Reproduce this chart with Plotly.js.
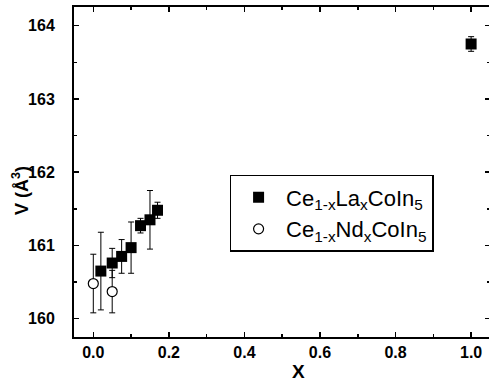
<!DOCTYPE html>
<html><head><meta charset="utf-8">
<script src="https://cdn.plot.ly/plotly-3.0.1.min.js"></script>
<style>html,body{margin:0;padding:0;overflow:hidden;background:#fff}</style>
</head><body>
<div id="chart" style="width:490px;height:383px"></div>
<script>
// Ce(1-x)La(x)CoIn5
const laX = [0.02, 0.05, 0.075, 0.1, 0.125, 0.15, 0.17, 1.0];
const laV = [160.65, 160.76, 160.85, 160.97, 161.27, 161.35, 161.48, 163.75];
const laErr = [0.53, 0.2, 0.23, 0.35, 0.1, 0.4, 0.11, 0.1];
// Ce(1-x)Nd(x)CoIn5
const ndX = [0.0, 0.05];
const ndV = [160.48, 160.37];
const ndErr = [0.4, 0.29];

const FONT = '"Liberation Sans", Arial, sans-serif';

const traces = [
  {
    x: ndX, y: ndV, type: 'scatter', mode: 'markers',
    name: 'Ce<sub>1-x</sub>Nd<sub>x</sub>CoIn<sub>5</sub>',
    marker: {symbol: 'circle', size: 10, color: '#fff', line: {color: '#000', width: 1.2}},
    error_y: {type: 'data', array: ndErr, visible: true, color: '#000', thickness: 1, width: 3}
  },
  {
    x: laX, y: laV, type: 'scatter', mode: 'markers',
    name: 'Ce<sub>1-x</sub>La<sub>x</sub>CoIn<sub>5</sub>',
    marker: {symbol: 'square', size: 11, color: '#000', line: {color: '#000', width: 0}},
    error_y: {type: 'data', array: laErr, visible: true, color: '#000', thickness: 1, width: 3}
  }
];

const axisCommon = {
  showgrid: false, zeroline: false, showline: true, linecolor: '#000', linewidth: 2,
  mirror: 'allticks', ticks: 'inside', ticklen: 5, tickwidth: 1.5, tickcolor: '#000',
  tickfont: {family: FONT, size: 16, color: '#000', weight: 'bold'}
};

const layout = {
  width: 490, height: 383,
  margin: {l: 74, r: 0, t: 7, b: 46},
  paper_bgcolor: '#fff', plot_bgcolor: '#fff',
  showlegend: true,
  legend: {
    x: 0.374, y: 0.491, xanchor: 'left', yanchor: 'top',
    traceorder: 'reversed', itemwidth: 45,
    bordercolor: '#000', borderwidth: 1.5, bgcolor: '#fff',
    font: {family: FONT, size: 22, color: '#000'}
  },
  xaxis: Object.assign({}, axisCommon, {
    range: [-0.0511, 1.050], tickvals: [0, 0.2, 0.4, 0.6, 0.8, 1.0],
    ticktext: ['0.0', '0.2', '0.4', '0.6', '0.8', '1.0'],
    minor: {dtick: 0.1, tick0: 0, ticks: 'inside', ticklen: 3, tickwidth: 1.5, tickcolor: '#000'}
  }),
  yaxis: Object.assign({}, axisCommon, {
    range: [159.75, 164.255], tickvals: [160, 161, 162, 163, 164],
    ticklabelstandoff: 14,
    minor: {dtick: 0.5, tick0: 160, ticks: 'inside', ticklen: 3, tickwidth: 1.5, tickcolor: '#000'}
  }),
  annotations: [
    {text: 'X', xref: 'paper', yref: 'paper', x: (298 - 74) / 416, y: -(372 - 337) / 330,
     xanchor: 'center', yanchor: 'middle', showarrow: false,
     font: {family: FONT, size: 19, color: '#000', weight: 'bold'}},
    {text: 'V (Å<sup>3</sup>)', xref: 'paper', yref: 'paper', x: -(74 - 20) / 416, y: 1 - (190 - 7) / 330,
     xanchor: 'center', yanchor: 'middle', textangle: -90, showarrow: false,
     font: {family: FONT, size: 18, color: '#000', weight: 'bold'}}
  ]
};

Plotly.newPlot('chart', traces, layout, {displayModeBar: false, staticPlot: true});
</script>
</body></html>
